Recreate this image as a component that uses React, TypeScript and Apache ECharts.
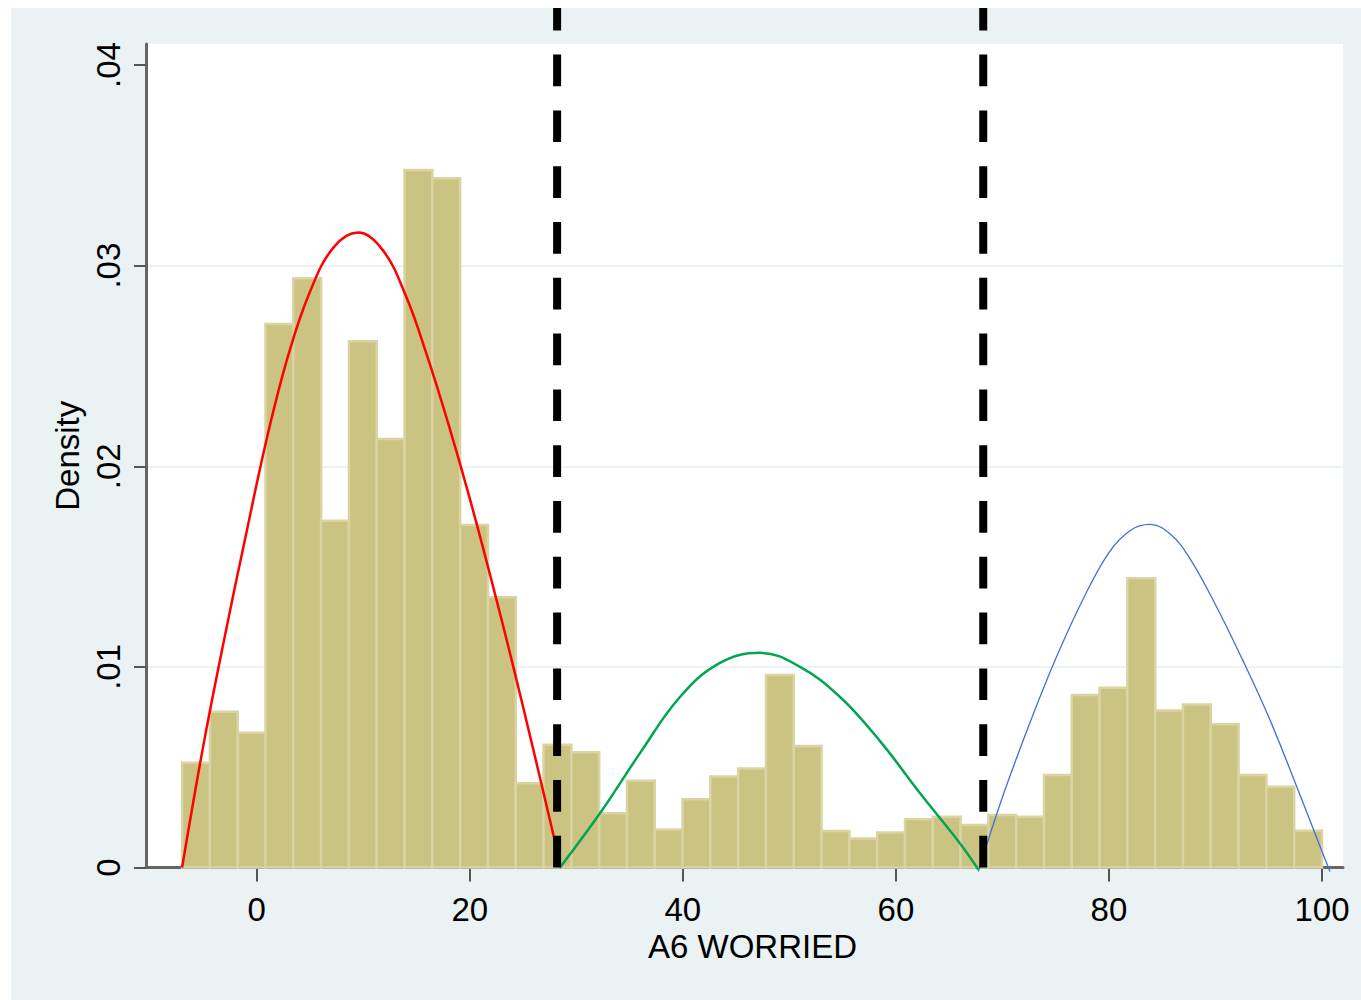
import React, { useEffect, useRef } from 'react';
import * as echarts from 'echarts';

// Histogram of A6 WORRIED: 41 equal-width bins from -7 to 100 (density scale)
const BIN_START = -7;
const BIN_END = 100;
const densities = [
  0.00522, 0.00777, 0.00672, 0.02709, 0.02937, 0.01729, 0.02623, 0.02136, 0.03477, 0.03436,
  0.01707, 0.01347, 0.0042, 0.00612, 0.00574, 0.0027, 0.00433, 0.0019, 0.0034, 0.00453,
  0.00493, 0.0096, 0.00606, 0.00182, 0.00144, 0.00174, 0.0024, 0.00253, 0.00212, 0.00262,
  0.00253, 0.00461, 0.0086, 0.00896, 0.01442, 0.00782, 0.00813, 0.00714, 0.00461, 0.00403,
  0.00183,
];

const xTicks = [0, 20, 40, 60, 80, 100];
const yTicks = [0, 0.01, 0.02, 0.03, 0.04];

// Cut points (dashed vertical lines)
const cutoffs = [28.2, 68.2];
const cutoffTop = 0.04284;

// Component curves: [x, density]
const redCurve = [
  [-7, 0], [-5, 0.0061], [-3, 0.0115], [-1, 0.0166], [1, 0.0215], [3, 0.0256], [5, 0.0287],
  [7.2, 0.0309], [9.5, 0.03165], [11.8, 0.0308], [14, 0.0285], [16, 0.0255], [18, 0.0221],
  [20, 0.0184], [22, 0.0144], [24, 0.0102], [26, 0.0058], [28, 0.0013],
];
const greenCurve = [
  [28.47, 0], [32.22, 0.0027], [35.98, 0.0057], [39.73, 0.0085], [43.49, 0.0102], [47.25, 0.0107],
  [51.0, 0.01], [54.76, 0.0085], [58.51, 0.0063], [62.27, 0.0037], [66.02, 0.0012], [67.74, -0.0001],
];
const blueCurve = [
  [67.74, -0.0002], [70, 0.0035], [72.5, 0.0071], [75, 0.0104], [77.5, 0.0133], [80, 0.0157],
  [82, 0.0168], [83.85, 0.0171], [85.8, 0.0166], [87.6, 0.0154], [90, 0.0131], [92.5, 0.0104],
  [95, 0.0075], [97.5, 0.0042], [100, 0.0008], [100.75, -0.0002],
];

const FONT = 'Arial, "Liberation Sans", sans-serif';

export default function App() {
  const ref = useRef<HTMLDivElement>(null);

  useEffect(() => {
    if (!ref.current) return;
    const chart = echarts.init(ref.current, null, { renderer: 'svg' });
    const binWidth = (BIN_END - BIN_START) / densities.length;
    const bars = densities.map((d, i) => [BIN_START + i * binWidth, BIN_START + (i + 1) * binWidth, d]);

    const curve = (data: number[][], color: string, width: number) => ({
      type: 'line',
      data,
      symbol: 'none',
      showSymbol: false,
      smooth: 0.4,
      clip: false,
      z: 3,
      silent: true,
      lineStyle: { color, width },
    });

    const dashed = (x: number) => ({
      type: 'line',
      data: [[x, 0], [x, cutoffTop]],
      symbol: 'none',
      showSymbol: false,
      clip: false,
      z: 4,
      silent: true,
      lineStyle: { color: '#000', width: 8, type: [31.7, 24.1], cap: 'butt' },
    });

    const option: any = {
      animation: false,
      backgroundColor: '#EAF2F3',
      textStyle: { fontFamily: FONT },
      grid: {
        left: 135,
        top: 36,
        right: 18,
        bottom: 132.5,
        show: true,
        backgroundColor: '#ffffff',
        borderWidth: 0,
      },
      xAxis: {
        type: 'value',
        min: -10.39,
        max: 101.97,
        name: 'A6 WORRIED',
        nameLocation: 'middle',
        nameGap: 62,
        nameTextStyle: { fontSize: 33, color: '#000', fontFamily: FONT, padding: [0, 0, 0, 16] },
        axisLine: { show: true, onZero: false, lineStyle: { color: '#666', width: 3 } },
        axisTick: { show: true, length: 14, customValues: xTicks, lineStyle: { color: '#555', width: 2 } },
        axisLabel: { customValues: xTicks, fontSize: 33, margin: 25, color: '#000', fontFamily: FONT },
        splitLine: { show: false },
      },
      yAxis: {
        type: 'value',
        min: 0,
        max: 0.04105,
        interval: 0.01,
        name: 'Density',
        nameLocation: 'middle',
        nameGap: 58,
        nameTextStyle: { fontSize: 33, color: '#000', fontFamily: FONT },
        axisLine: { show: true, onZero: false, lineStyle: { color: '#666', width: 3 } },
        axisTick: { show: true, length: 12, customValues: yTicks, lineStyle: { color: '#555', width: 2 } },
        axisLabel: {
          customValues: yTicks,
          rotate: 90,
          fontSize: 33,
          margin: 21,
          color: '#000',
          fontFamily: FONT,
          formatter: (v: number) => (v === 0 ? '0' : v.toFixed(2).replace(/^0/, '')),
        },
        splitLine: {
          show: true,
          showMinLine: false,
          showMaxLine: false,
          lineStyle: { color: '#EAF2F3', width: 2 },
        },
      },
      series: [
        {
          type: 'custom',
          data: bars,
          encode: { x: [0, 1], y: 2 },
          z: 1,
          silent: true,
          renderItem: (params: any, api: any) => {
            const p0 = api.coord([api.value(0), api.value(2)]);
            const p1 = api.coord([api.value(1), 0]);
            return {
              type: 'rect',
              shape: { x: p0[0], y: p0[1], width: p1[0] - p0[0], height: p1[1] - p0[1] },
              style: { fill: '#CAC381', stroke: '#D9D4A2', lineWidth: 2.5 },
            };
          },
        },
        curve(redCurve, '#FF0000', 2.5),
        curve(greenCurve, '#00A651', 2.5),
        curve(blueCurve, '#3F70D6', 1.3),
        dashed(cutoffs[0]),
        dashed(cutoffs[1]),
      ],
    };

    chart.setOption(option);
    return () => chart.dispose();
  }, []);

  return (
    <div
      ref={ref}
      style={{ position: 'absolute', left: 11, top: 8, width: 1350, height: 992 }}
    />
  );
}
